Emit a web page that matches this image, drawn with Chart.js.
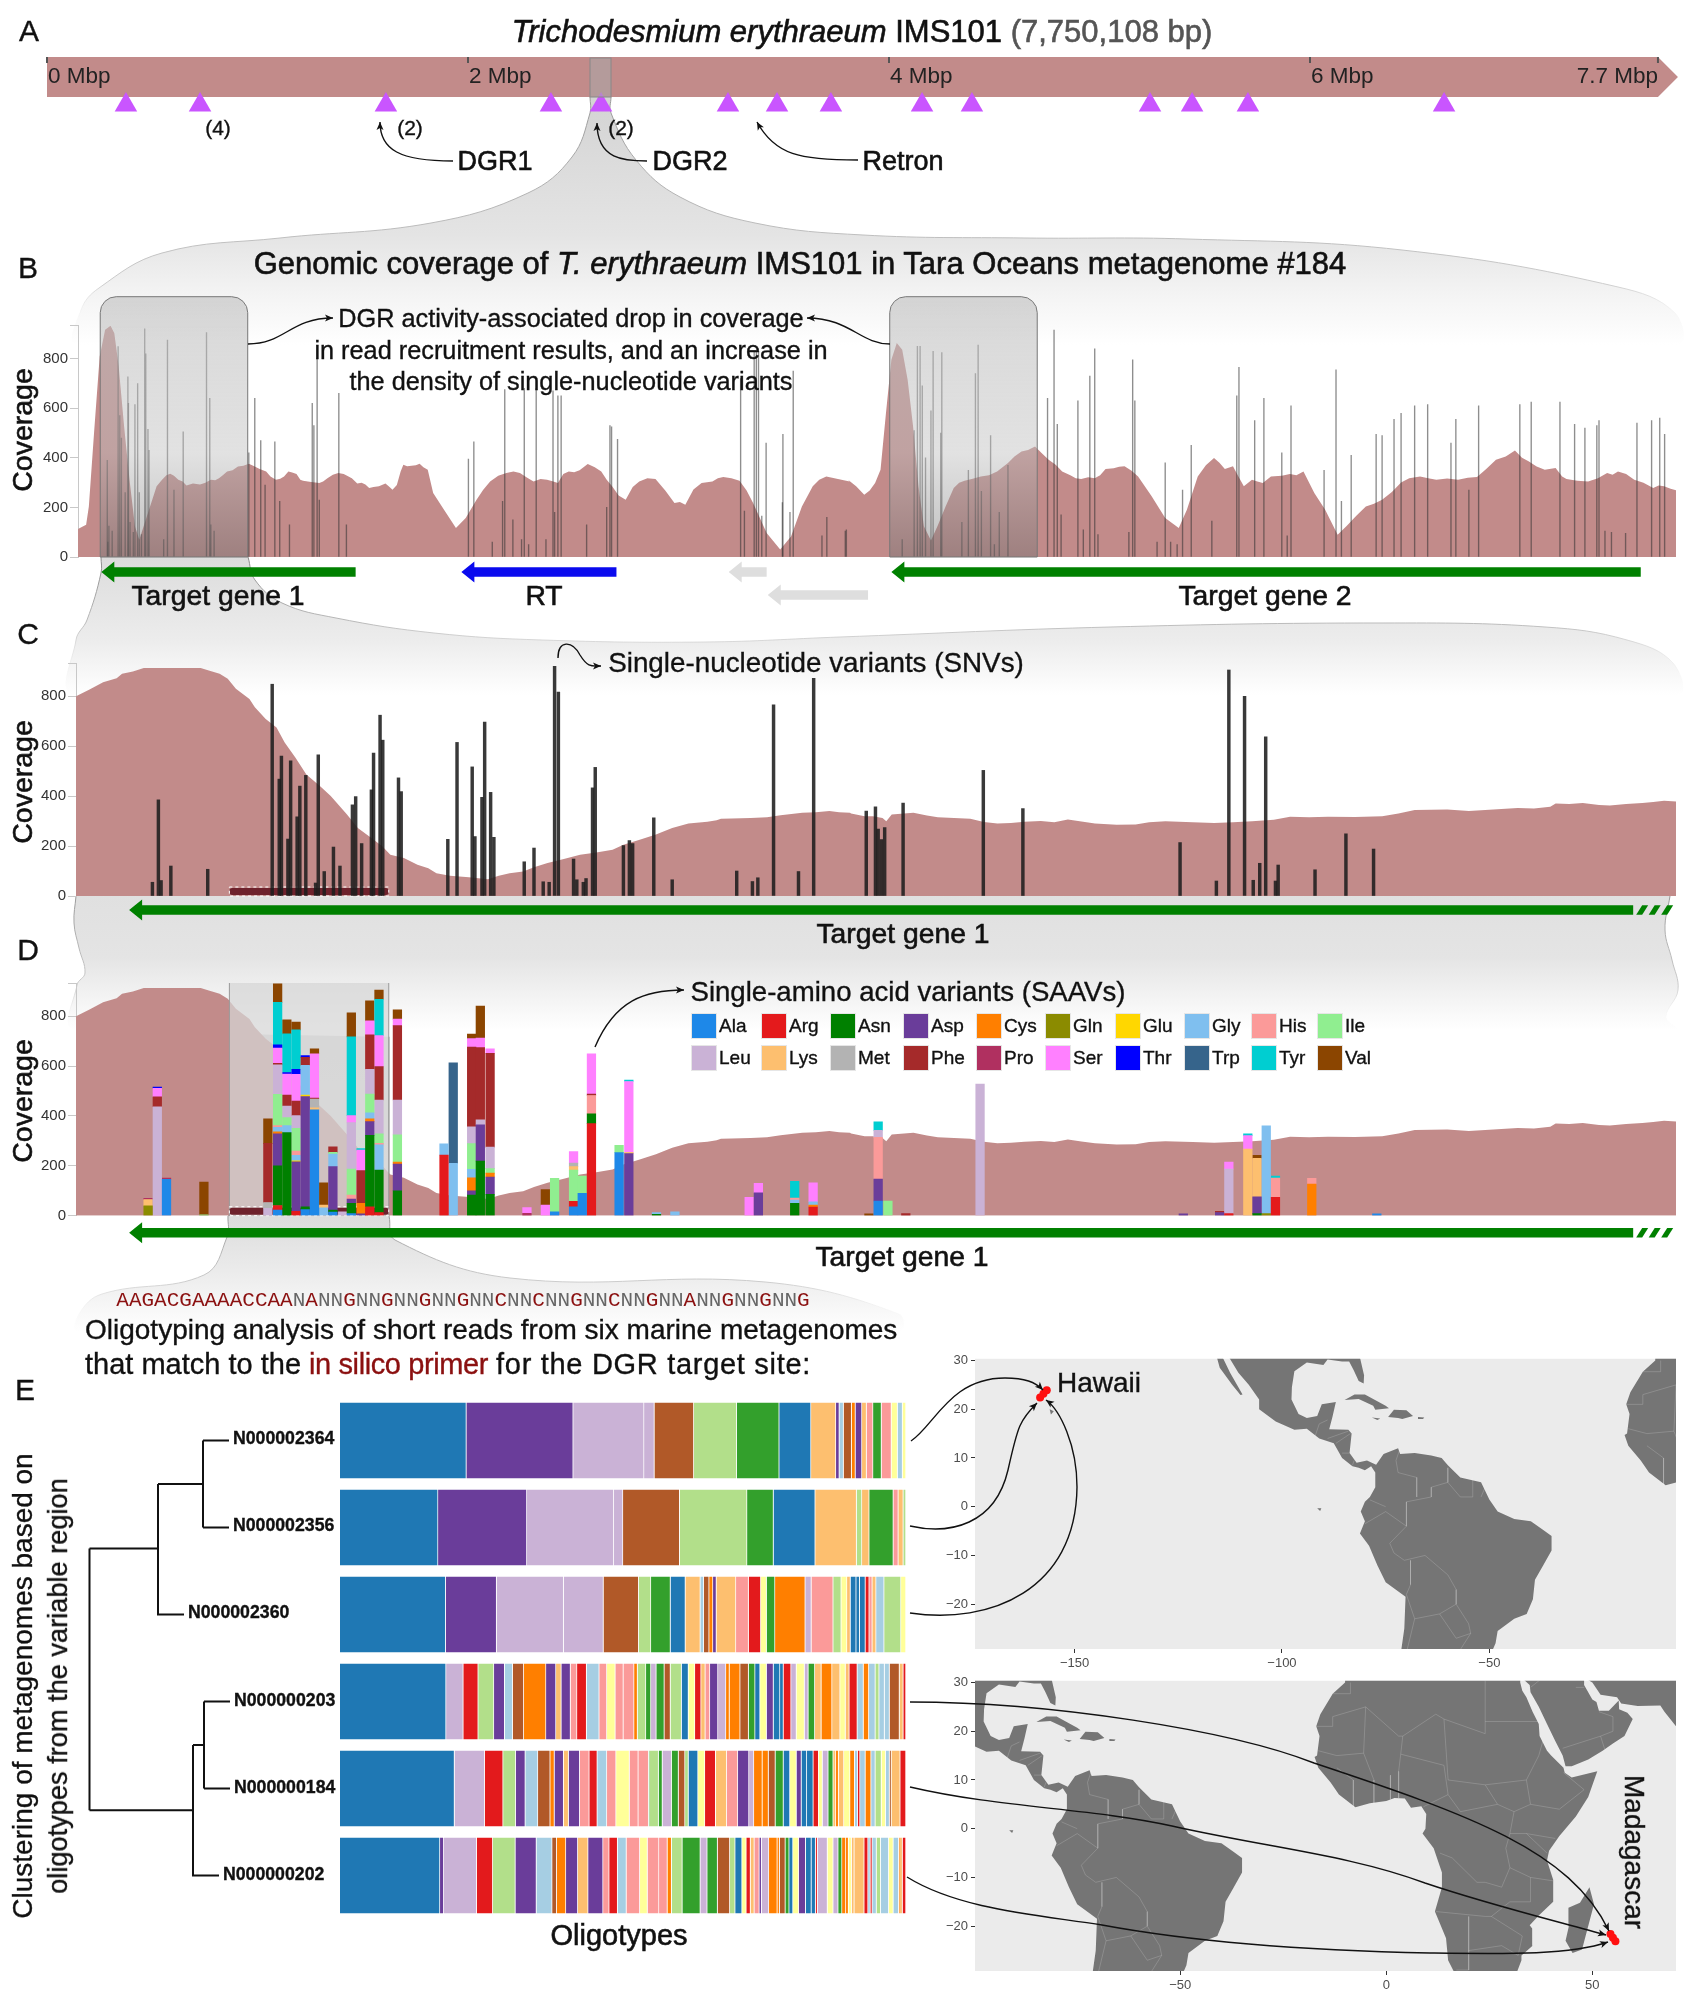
<!DOCTYPE html>
<html>
<head>
<meta charset="utf-8">
<title>Trichodesmium erythraeum DGR</title>
<script src="https://cdn.jsdelivr.net/npm/chart.js@4/dist/chart.umd.min.js"></script>
<style>
  body { margin: 0; background: #fff; }
  #page { position: relative; width: 1691px; height: 2000px; overflow: hidden; font-family: "Liberation Sans", Arial, sans-serif; color: #111; }
  canvas { position: absolute; }
  .t { position: absolute; white-space: nowrap; z-index: 5; -webkit-text-stroke: 0.35px currentColor; }
  .m { -webkit-text-stroke: 0.6px currentColor; }
  .sw { position: absolute; width: 24px; height: 24px; border: 1px solid #e6e6e6; z-index: 5; }
  .dna { font-family: "Liberation Mono", monospace; color: #8b1010; -webkit-text-stroke: 0; }
  .dna b { font-weight: normal; color: #666; }
</style>
</head>
<body>
<div id="page"></div>
<script>
// ---------- panel A: genome
const genomeEnd = 7.653;
const genomeTicks = [0, 2, 4, 6, 7.653];
const genomeTickLabels = ['0 Mbp', '2 Mbp', '4 Mbp', '6 Mbp', '7.7 Mbp'];
const siteMbp = [0.375, 0.727, 1.61, 2.394, 2.632, 3.235, 3.468, 3.724, 4.157, 4.394, 5.24, 5.44, 5.705, 6.637];

// ---------- panel B: position along the contig, coverage
const splitPos = 1550; // second half of the contig tables starts here
const covBLeft = [[145,113],[160,130],[165,204],[175,513],[185,809],[195,917],[205,933],[212,903],[220,769],[230,527],[240,312],[250,124],[258,70],[270,150],[280,218],[290,285],[300,312],[308,330],[315,336],[322,328],[330,312],[338,305],[345,288],[357,296],[370,292],[380,300],[390,312],[398,310],[405,318],[412,330],[420,345],[430,350],[440,365],[450,368],[460,376],[470,366],[480,355],[492,345],[500,325],[510,312],[518,316],[525,325],[533,345],[540,341],[548,335],[555,312],[560,308],[575,303],[590,298],[597,305],[605,318],[615,332],[625,339],[635,335],[650,318],[660,296],[668,300],[675,292],[682,278],[690,282],[700,285],[712,296],[718,285],[725,271],[733,290],[740,345],[745,372],[752,366],[760,368],[768,370],[775,376],[782,362],[790,352],[800,258],[820,191],[842,117],[860,157],[880,231],[892,270],[905,305],[920,328],[935,339],[948,345],[960,339],[972,322],[985,305],[998,315],[1010,312],[1020,306],[1030,298],[1040,335],[1050,345],[1060,342],[1070,350],[1085,375],[1098,362],[1110,345],[1120,312],[1130,285],[1142,248],[1155,231],[1168,282],[1180,305],[1195,318],[1210,315],[1228,268],[1245,218],[1255,222],[1265,211],[1280,272],[1295,298],[1315,305],[1325,318],[1335,323],[1350,318],[1365,308],[1378,268],[1390,218],[1415,97],[1440,30],[1460,83],[1480,204],[1500,285],[1512,312],[1525,325],[1540,318],[1568,305]];
const covBRight = [[15,312],[30,285],[45,251],[55,268],[65,298],[75,352],[85,580],[95,796],[105,863],[115,836],[125,715],[135,527],[145,285],[155,124],[168,67],[180,124],[195,204],[210,278],[220,300],[230,308],[245,316],[260,325],[275,330],[290,345],[300,362],[310,379],[322,405],[335,426],[347,432],[360,446],[372,420],[385,392],[398,372],[410,345],[425,330],[435,318],[445,315],[458,322],[470,318],[480,330],[490,355],[505,358],[515,364],[525,366],[538,348],[550,325],[575,245],[600,157],[625,117],[640,191],[660,325],[675,370],[690,399],[700,380],[710,355],[725,366],[735,325],[745,285],[760,312],[770,305],[780,298],[795,325],[815,328],[830,335],[842,330],[855,345],[875,258],[895,191],[918,90],[935,126],[952,165],[970,204],[985,215],[1000,231],[1018,262],[1035,301],[1050,318],[1070,325],[1085,318],[1100,312],[1120,317],[1140,312],[1158,320],[1175,323],[1192,355],[1210,392],[1228,405],[1245,430],[1258,400],[1270,386],[1285,365],[1300,352],[1320,359],[1332,325],[1340,315],[1360,308],[1380,305],[1398,318],[1415,339],[1425,332],[1435,345],[1450,335],[1465,312],[1482,300],[1500,278],[1510,288],[1520,285],[1532,275],[1542,269]];
const snvBLeft = [[199,390],[200,60],[202,125],[208,105],[219,849],[222,570],[225,480],[232,260],[237,727],[238,620],[241,140],[247,100],[250,615],[255,700],[258,260],[262,90],[268,920],[270,820],[274,515],[276,430],[303,70],[310,875],[322,270],[339,505],[382,905],[388,640],[390,130],[396,105],[460,420],[471,640],[482,470],[490,290],[508,465],[517,225],[535,130],[577,620],[580,530],[586,800],[590,230],[626,660],[640,130],[865,395],[875,465],[909,60],[928,225],[932,675],[947,150],[963,70],[968,680],[976,50],[990,680],[1008,70],[1021,670],[1024,180],[1030,650],[1036,650],[1083,130],[1120,200],[1126,530],[1129,525],[1140,475],[1367,720],[1374,185],[1392,830],[1396,830],[1400,830],[1406,165],[1414,460],[1445,495],[1444,220],[1458,180],[1464,750],[1526,160],[1517,85],[1560,105]];
const snvBRight = [[12,110],[115,70],[137,510],[143,850],[148,850],[152,690],[158,400],[168,590],[172,830],[186,500],[188,825],[225,140],[237,350],[250,740],[255,855],[261,265],[278,490],[285,50],[294,180],[310,370],[383,640],[395,915],[401,535],[408,170],[439,630],[449,110],[461,730],[470,840],[476,90],[533,100],[540,795],[544,630],[585,60],[600,380],[610,60],[622,50],[632,270],[648,450],[686,145],[732,650],[736,765],[765,550],[782,640],[815,420],[825,85],[832,610],[893,350],[915,755],[925,225],[943,410],[989,495],[1000,490],[1022,555],[1035,580],[1060,610],[1084,615],[1127,460],[1136,555],[1160,270],[1178,610],[1254,615],[1275,625],[1328,625],[1355,535],[1374,520],[1396,530],[1400,550],[1411,105],[1423,100],[1449,95],[1470,540],[1497,550],[1512,560],[1521,495]];
const geneStartB = [188, 852, 1345, 1417, 1645];
const geneEndB = [657, 1138, 1415, 1602, 3027];
const geneKindB = ['target', 'rt', 'other', 'other', 'target'];
const geneLaneB = [0, 0, 0, 1, 0];
const activeRegionsB = [[186, 458], [1642, 1914]];

// ---------- panels C and D: target gene 1 close up
const covCLeft = [[140,800],[165,827],[190,856],[215,872],[225,890],[245,899],[265,913],[370,913],[385,903],[405,890],[420,870],[435,830],[460,789],[470,756],[490,709],[510,675],[525,615],[545,554],[565,487],[590,440],[610,400],[640,326],[660,272],[685,232],[705,199],[720,165],[745,152],[770,125],[790,111],[805,91],[830,81],[865,75],[900,67],[920,81],[940,91],[965,98],[985,115],[1010,132],[1040,148],[1070,165],[1100,174],[1130,185],[1150,205],[1180,225],[1210,246],[1240,272],[1270,290],[1305,297],[1322,303],[1330,309],[1350,310],[1385,312],[1415,315],[1440,323],[1480,333],[1505,335],[1530,340],[1548,335],[1568,333]];
const covCRight = [[20,330],[45,319],[60,319],[78,312],[85,299],[95,326],[135,333],[160,322],[180,315],[210,312],[240,309],[265,296],[290,290],[315,292],[340,297],[370,300],[395,295],[420,306],[445,298],[470,290],[510,285],[545,286],[570,295],[600,299],[650,295],[690,292],[725,295],[760,299],[800,305],[830,317],[865,315],[900,317],[950,316],[1000,319],[1030,330],[1060,344],[1090,345],[1120,346],[1160,340],[1190,344],[1220,348],[1250,352],[1280,350],[1310,357],[1320,370],[1345,368],[1370,372],[1400,364],[1420,362],[1450,368],[1480,372],[1500,376],[1520,381],[1542,378]];
const snvCLeft = [[281,55],[292,385],[297,62],[315,120],[383,107],[502,848],[515,468],[519,560],[531,228],[536,541],[548,317],[553,440],[564,483],[582,52],[587,565],[598,98],[615,196],[627,120],[650,365],[656,398],[667,210],[685,425],[689,572],[701,724],[706,624],[735,473],[740,418],[826,227],[843,615],[871,517],[876,238],[889,395],[894,696],[905,415],[911,235],[967,137],[985,192],[1002,57],[1013,55],[1023,920],[1030,817],[1058,148],[1064,65],[1076,55],[1081,70],[1093,433],[1098,515],[1150,202],[1161,222],[1167,210],[1206,313],[1240,65],[1359,100],[1388,58],[1398,73],[1427,765],[1473,98],[1501,872]];
const snvCRight = [[48,340],[65,357],[70,268],[76,226],[82,274],[116,372],[264,503],[337,350],[627,214],[694,60],[717,905],[746,800],[762,63],[774,131],[785,637],[803,60],[808,124],[876,105],[933,249],[984,188]];
const geneStartC = [238];
const geneEndC = [3013];
const primerRegion = [423, 717];

const aminoAcids = ['Ala','Arg','Asn','Asp','Cys','Gln','Glu','Gly','His','Ile','Leu','Lys','Met','Phe','Pro','Ser','Thr','Trp','Tyr','Val'];
const aminoColors = ['#1e88e8','#e41a1c','#008000','#6a3d9a','#ff7f00','#8b8b00','#ffd700','#7fbfef','#fb9a99','#90ee90','#cab2d6','#fdbf6f','#b3b3b3','#a52a2a','#b03060','#ff80ff','#0000ff','#36648b','#00ced1','#8b4500'];
// each site: position, then amino acid and the top of its segment in the stack
const saavPos = [273,290,307,376,494,512,529,546,563,580,597,614,632,648,666,682,699,733,819,836,870,886,904,972,1006,1023,1058,1074,1091,1142,1160,1211,1245,1382,1399,1466,1500,1603,1620,1638,1671,1808,2183,2250,2267,2302,2319,2336,2353,2420,2540];
const saavTops = [
  ['Gln',40,'Lys',65,'Pro',70],
  ['Leu',437,'Phe',477,'Ser',511,'Thr',516],
  ['Ala',146,'Pro',151],
  ['Ile',3,'Val',135],
  ['Leu',30,'Met',53,'Phe',290,'Val',388],
  ['Ala',23,'Arg',41,'Asn',200,'Asp',328,'Cys',336,'Gly',354,'His',361,'Ile',487,'Leu',605,'Phe',611,'Ser',672,'Thr',685,'Tyr',855,'Val',930],
  ['Asn',333,'Gly',361,'Ile',393,'Leu',440,'Phe',484,'Ser',568,'Thr',574,'Tyr',729,'Val',785],
  ['Arg',18,'Asp',216,'Glu',220,'Gly',242,'His',259,'Ile',350,'Leu',401,'Phe',460,'Ser',567,'Thr',587,'Tyr',745,'Val',776],
  ['Ala',25,'Asn',36,'Asp',478,'Glu',484,'Gly',603,'Phe',635,'Thr',642],
  ['Ala',424,'Lys',433,'Met',468,'Phe',472,'Ser',649,'Val',669],
  ['Gly',32,'Lys',43,'Val',132],
  ['Ala',15,'Asn',23,'Asp',197,'Gly',247,'Ile',254,'Phe',276],
  ['Leu',16],
  ['Ala',9,'Asn',50,'Asp',67,'His',83,'Ile',187,'Leu',373,'Ser',401,'Tyr',717,'Val',813],
  ['Asp',7,'Cys',50,'Phe',181,'Ser',263,'Tyr',269],
  ['Arg',36,'Asn',322,'Asp',377,'Cys',388,'Gly',412,'Ile',488,'Leu',587,'Phe',725,'Ser',781,'Val',862],
  ['Arg',13,'Asn',183,'Gly',284,'His',290,'Ile',328,'Leu',464,'Phe',598,'Ser',722,'Tyr',868,'Val',905],
  ['Asn',100,'Asp',207,'Cys',215,'Ile',324,'Leu',464,'Phe',762,'Ser',788,'Val',825],
  ['Arg',243,'Gly',288],
  ['Gly',210,'Trp',613],
  ['Asn',83,'Asp',100,'Cys',152,'Gly',186,'Ile',289,'Leu',356,'Phe',676,'Ser',710,'Val',728],
  ['Asn',219,'Asp',364,'Leu',384,'Phe',674,'Ser',712,'Val',840],
  ['Asn',86,'Asp',155,'Cys',171,'Ile',189,'Leu',275,'Phe',651,'Ser',669],
  ['Pro',10,'Ser',33],
  ['Ser',43,'Val',105],
  ['Ala',16,'Ile',150],
  ['Ala',36,'Arg',58,'Ile',183,'Lys',197,'Met',211,'Ser',257],
  ['Ala',90,'Ile',159],
  ['Arg',369,'Asn',408,'His',482,'Phe',488,'Ser',649],
  ['Ala',253,'Ile',282],
  ['Asp',249,'Lys',254,'Ser',538,'Tyr',544],
  ['Asn',5,'Gly',13],
  ['Gly',16],
  ['Ser',74],
  ['Asp',92,'Ser',130],
  ['Asn',50,'Gly',63,'His',71,'Tyr',138],
  ['Arg',35,'Cys',43,'Gly',56,'Ser',132],
  ['Val',7],
  ['Ala',59,'Asp',147,'His',314,'Leu',342,'Tyr',376],
  ['Ile',59],
  ['Phe',8],
  ['Leu',528],
  ['Asp',7],
  ['Asp',13,'Phe',18],
  ['Arg',8,'Leu',187,'Ser',215],
  ['Lys',267,'Ser',321,'Tyr',328],
  ['Asn',8,'Asp',76,'Lys',230,'Val',242],
  ['Gln',8,'Gly',360],
  ['Arg',74,'His',151,'Tyr',159],
  ['Cys',127,'His',150],
  ['Ala',7]
];

// ---------- panel E: oligotypes, edges of each block and its colour
const sampleNames = ['N000002364','N000002356','N000002360','N000000203','N000000184','N000000202'];
const pairedColors = {a:'#a6cee3',b:'#1f78b4',c:'#b2df8a',d:'#33a02c',e:'#fb9a99',f:'#e31a1c',g:'#fdbf6f',h:'#ff7f00',i:'#cab2d6',j:'#6a3d9a',k:'#ffff99',l:'#b15928'};
const oligoEdges = [
  [26,356,635,820,847,950,1062,1173,1256,1321,1330,1341,1362,1372,1389,1401,1418,1440,1466,1482,1495,1504],
  [26,282,514,741,765,913,1089,1158,1267,1375,1389,1408,1471,1484,1497,1504],
  [26,302,435,610,714,806,838,889,928,967,976,990,1000,1009,1060,1093,1125,1140,1162,1241,1257,1314,1335,1350,1359,1374,1383,1398,1408,1416,1426,1447,1491,1504],
  [26,303,348,387,428,456,477,506,564,590,604,628,645,670,703,723,745,766,794,803,825,838,852,873,889,918,936,953,969,980,992,1013,1034,1043,1071,1093,1110,1123,1140,1158,1175,1184,1204,1218,1239,1249,1266,1283,1311,1332,1346,1356,1377,1393,1407,1424,1434,1448,1461,1487,1497,1504],
  [26,325,404,452,485,510,543,575,586,610,623,652,677,698,723,747,782,805,832,834,858,868,892,910,927,936,961,979,1007,1036,1065,1094,1107,1129,1145,1163,1184,1201,1218,1231,1245,1262,1276,1286,1301,1314,1321,1328,1342,1358,1370,1378,1384,1398,1413,1424,1440,1451,1461,1466,1489,1504],
  [26,287,297,383,425,484,539,580,592,616,647,674,713,729,751,774,809,829,859,881,892,920,967,985,1012,1044,1058,1076,1087,1098,1108,1121,1127,1146,1168,1174,1189,1199,1209,1224,1242,1257,1268,1273,1299,1314,1327,1337,1347,1354,1362,1369,1395,1405,1411,1416,1427,1438,1459,1471,1485,1488,1495,1504]
];
const oligoColors = ['bjiilcdbgjalhjgedekak','bjiilcdbgcgdegc','bjiilcdbgalhjgefkdhieckgbbbfegack','bifcjalhjgjefaekeehcdidlcbkfgejihhldbkjbbfikidghgkgfahacaalgf','bifcjalhjgjefaekeedcdidlcbkfgejihhldbkjbbfkidghgkhafahackalgf','bjifcjalhjgjefaekeehcdidlcbkfgejihhldbkjbbfikidhhkggfafacakahgf'];
// dendrogram: [depth, row] corners, null breaks the line
const treeLines = [[9.5,1.24],[78,1.24],null,[9.5,4.25],[113,4.25],null,[9.5,1.24],[9.5,4.25],null,[78,0.5],[78,2],[104,2],null,[78,0.5],[123,0.5],null,[123,0],[123,1],null,[123,0],[149,0],null,[123,1],[149,1],null,[113,3.5],[113,5],[139,5],null,[113,3.5],[124,3.5],null,[124,3],[124,4],null,[124,3],[150,3],null,[124,4],[150,4]];

// ---------- maps: lon, lat
const landAmericas = [[-81.3,31],[-80.2,27],[-80.3,25.3],[-81.5,25.8],[-82.7,28],[-83.8,29.8],[-85.5,29.8],[-89,30.2],[-90,29.1],[-94,29.6],[-97,27.8],[-97.6,24.5],[-97.7,22],[-96,19],[-94,18.2],[-91.5,18.6],[-90.4,21],[-87,21.5],[-87.8,18.5],[-88.6,15.9],[-84,15.8],[-83.2,15],[-83.7,11],[-82,9],[-79.5,9.5],[-77.3,8.6],[-75.5,10.8],[-72,12],[-71.5,10.8],[-68,11],[-64,10.5],[-61.5,10],[-60,8.5],[-57,6],[-52,5],[-50,1.5],[-48,-1],[-44,-2.5],[-40,-3],[-37,-4.8],[-35,-6],[-35,-9],[-37,-12],[-39,-15],[-39.5,-19],[-41,-22],[-44,-23],[-48,-25.5],[-48.5,-28],[-49.5,-30],[-50,-31],[-71.5,-31],[-70.5,-25],[-70.2,-18.5],[-75,-15.5],[-77,-12],[-79,-8],[-81.2,-5.5],[-80,-3],[-81,-1],[-80,1],[-78.8,2],[-77.5,4],[-77.5,7],[-78.5,8.3],[-80,7.5],[-81.5,8],[-83,8.3],[-85.5,10],[-87.5,13],[-91,14],[-94,16],[-97,15.8],[-101.5,17.5],[-105.5,20],[-105.5,22],[-108,25],[-110.5,27.5],[-113,31]];
const landBaja = [[-115.8,31],[-114.5,31],[-112.5,27.5],[-109.5,23],[-110,22.9],[-112,25],[-115,28.5]];
const landCuba = [[-84.9,21.9],[-82.5,23],[-80,23],[-75,20.7],[-74.2,20.2],[-77.5,19.9],[-78,20.7],[-81.5,22.1]];
const landHispaniola = [[-74.4,18.4],[-73,19.9],[-70,19.8],[-68.4,18.6],[-71,18],[-72,18.2]];
const landJamaica = [[-78.3,18.3],[-76.3,18.1],[-77,17.8]];
const landPuertoRico = [[-67.2,18.4],[-65.7,18.3],[-66,18],[-67.2,18]];
const landHawaii = [[-156,20],[-155,19.6],[-155.7,18.9]];
const landGalapagos = [[-91.5,-0.3],[-90.5,-0.3],[-90.8,-0.9]];
const landAfrica = [[-10,31],[-10,30],[-13,27.7],[-16,23.5],[-17,21],[-16.2,19],[-16.8,15],[-17.4,14.7],[-16.5,12.5],[-13.5,9.5],[-11.5,7],[-7.5,4.4],[-4,5.2],[0,5.7],[2,6.3],[4.5,6.2],[6,4.3],[8.5,4.6],[9.7,3],[9.5,0],[8.8,-1],[11.5,-4],[12.3,-6],[13.5,-9],[13.5,-12],[11.8,-17],[14.5,-22.5],[15,-27],[16.5,-29.5],[17,-31],[31,-31],[32.8,-27],[32.8,-26],[35.5,-24],[35.4,-20.5],[34.8,-19.8],[37,-17.8],[40.5,-15],[40.5,-10.5],[39,-6.5],[39.5,-4.5],[42,-1.5],[46,2.5],[49,6.5],[51.2,11.8],[45,10.5],[43.3,11.5],[43,12.5],[40,15],[39,16],[37.2,19],[37,21.5],[35.5,24],[34,27],[33,28.3],[32.5,30],[32.5,31]];
const landArabia = [[32.8,31],[34.8,29.5],[35,28],[37,25],[39,21.5],[41,18],[42.8,15],[43.5,12.8],[45,12.8],[49,14.2],[52.5,16],[55,17.5],[57.8,19],[59.8,22.5],[58.5,23.8],[56.5,24.5],[56.4,26.3],[54,24.2],[51.6,24.2],[51,26],[50,26.5],[48,29.5],[48,31]];
const landIran = [[48,31],[50,30],[52,27.5],[56,27],[57,25.7],[61,25.2],[66.5,25.3],[67.5,24],[70.3,21],[72,21],[72,31]];
const landMadagascar = [[49.3,-12],[50.4,-15.5],[47.5,-24.8],[45.2,-25.5],[43.5,-23],[44.3,-20],[44.2,-16.2],[47,-15.2]];
const landParts = [landAmericas, landBaja, landCuba, landHispaniola, landJamaica, landPuertoRico, landHawaii, landGalapagos, landAfrica, landArabia, landIran, landMadagascar];
const borderLines = [[-60,8],[-60,5],[-64,4],[-64,2],[-67,1.5],[-70,1],[-70,-4],[-74,-7.5],[-73,-9.5],[-70.5,-11],[-65.5,-10],[-60,-14],[-58,-17],[-58,-20],[-55,-24],[-54.5,-26],[-57.5,-30],null,[-71.5,12],[-72.5,9.5],[-72,7],[-67.5,6],[-67.5,2],null,[-80,-3.5],[-75,-1],[-70,-4],null,[-78.8,1.4],[-75,0],null,[-69,-11],[-69,-16],[-70,-18],[-68,-23],[-70,-30],null,[-68,-23],[-62,-22],[-58,-20],null,[-62,-22],[-58,-27],[-54.5,-26],null,[-60,5],[-57,2],[-54,2],[-54,6],null,[-52,2],[-51,4],null,[-92,14.5],[-91,17],[-89,17.8],null,[-89,14],[-84,15.5],null,[-87,13],[-83.5,15],null,[-85.5,11],[-83.7,11],null,[-83,8.5],[-82.6,9.5],null,
  [-13,27.7],[-8.7,27.7],[-8.7,30],null,[-17,21],[-13,21],[-13,23],[-5,25],[3,19],[4,19],[12,23.5],[14,22.5],[24,19.5],[24,31],null,[-16.5,16],[-12,15],[-5.5,15.5],[-5,25],null,[3,11.8],[3.5,15.3],[4,19],null,[-12,12.5],[-8,10],[-8,4.5],null,[-5.5,15.5],[-3,10],[-3,5],null,[1,11],[1,6],null,[3,11.8],[3,6.3],null,[3.5,15.3],[14,13],[15,7],[9,4.5],null,[14,22.5],[15,10],[24,9],[34,10],[37,15],[38,18],null,[24,22],[37,22],null,[24,9],[27,5],[31,3.5],[35,5],[42,4],[48,8],[43,11.5],null,[34,10],[35,5],null,[31,3.5],[30,-1],[29,-4],[30,-8],[35,-10],[40.5,-10.7],null,[30,-1],[34,-1],[41,-2],null,[34,-1],[39,-5],null,[15,7],[18,3.5],[27,5],null,[13,-5],[16,-6],[22,-11],[24,-11],[28,-12],[30,-8],null,[12,-17],[24,-18],[25.5,-18],[30,-15],[35,-15],[35,-10],null,[20,-18],[20,-29],[17,-29],null,[25.5,-18],[33,-22],[32,-26],[28,-24],[20,-25],null,
  [35,29],[38,31],null,[42.8,16.5],[52,19],[55,20],[55,23],[51.6,24],null,[46,29],[48,29],null,[52,19],[53,16.3]];
const hawaiiDots = [[-158.3,22.4],[-157.5,23.2],[-156.7,23.9]];
const madagascarDots = [[54.4,-21.6],[55,-22.4],[55.6,-23.1]];

// ---------- page level decoration, in page pixels
const funnelAB = [[590,97],[590,113],[572,157],[528,193],[431,223],[280,238],[162,253],[99,288],[81,310],[78,345],[1677,345],[1675,313],[1618,287],[1402,250],[1187,239],[1025,238],[863,235],[755,223],[680,197],[636,160],[611,113],[611,97]];
const funnelBC = [[101,557],[101,573],[87,620],[76,640],[76,695],[1677,695],[1673,663],[1627,640],[1545,627],[1383,623],[1111,627],[840,637],[705,642],[542,640],[434,633],[336,618],[282,603],[255,580],[248,557]];
const funnelCD = [[76,896],[74,923],[79,948],[85,973],[77,985],[76,1030],[1677,1030],[1666,1017],[1678,990],[1672,960],[1665,930],[1670,896]];
const zoomBandCD = [[229,896],[229,1216],[389,1216],[389,896]];
const funnelDE = [[228,1216],[227,1237],[204,1275],[102,1294],[79,1314],[78,1332],[899,1332],[899,1314],[765,1282],[510,1278],[395,1240],[389,1216]];
// cubic paths: start, then control, control, end ...
const calloutPaths = [
  [453,161, 400,161,380,150,380,122],
  [647,161, 625,161,597,160,597,123],
  [858,160, 800,160,775,155,757,122],
  [248,344, 285,344,290,318,333,318],
  [890,344, 860,344,850,318,807,318],
  [558,658, 558,640,572,640,580,655, 588,668,592,666,601,666],
  [595,1047, 615,1000,645,990,684,990],
  [911,1441, 935,1425,950,1378,1005,1378, 1025,1378,1035,1382,1043,1390],
  [910,1526, 950,1535,995,1525,1008,1470, 1018,1425,1020,1420,1037,1403],
  [910,1613, 990,1625,1076,1590,1077,1487, 1077,1445,1060,1410,1046,1400],
  [910,1702, 1050,1702,1230,1730,1314,1763, 1470,1815,1570,1850,1609,1931],
  [910,1787, 1000,1808,1090,1808,1172,1826, 1270,1848,1350,1855,1425,1883, 1490,1905,1560,1922,1606,1935],
  [907,1877, 960,1910,1040,1915,1102,1925, 1210,1945,1330,1951,1430,1953, 1510,1954,1570,1955,1608,1942]
];

// ----------------------------------------------------------------------
const page = document.getElementById('page');
const FONT = '"Liberation Sans", Arial, sans-serif';
const COV = 'rgb(194,139,138)';
Chart.defaults.font.family = FONT;
Chart.defaults.animation = false;
Chart.defaults.responsive = false;
Chart.defaults.layout.autoPadding = false;
Chart.defaults.plugins.legend.display = false;
Chart.defaults.plugins.tooltip.enabled = false;

function addCanvas(left, top, w, h, z) {
  const c = document.createElement('canvas');
  c.width = w; c.height = h;
  c.style.cssText = 'left:' + left + 'px;top:' + top + 'px;width:' + w + 'px;height:' + h + 'px;z-index:' + z;
  page.appendChild(c);
  return c;
}
function addText(html, x, y, size, opt) {
  opt = opt || {};
  const d = document.createElement('div');
  d.className = 't' + (opt.cls ? ' ' + opt.cls : '');
  d.innerHTML = html;
  const tx = opt.left ? '0' : '-50%';
  d.style.cssText = 'left:' + x + 'px;top:' + y + 'px;font-size:' + size + 'px;transform:translate(' + tx + ',-50%)' + (opt.rot ? ' rotate(' + opt.rot + 'deg)' : '') + ';' + (opt.css || '');
  page.appendChild(d);
}
function joinTable(left, right) {
  return left.concat(right.map(p => [p[0] + splitPos, p[1]])).map(p => ({x: p[0], y: p[1]}));
}
function xyRows(rows) {
  return rows.map(p => p ? {x: p[0], y: p[1]} : {x: NaN, y: NaN});
}
function fade(ctx, y0, y1, stops) {
  const g = ctx.createLinearGradient(0, y0, 0, y1);
  stops.forEach(s => g.addColorStop(s[0], s[1]));
  return g;
}

// ---------- background funnels
const bgCanvas = addCanvas(0, 0, 1691, 2000, 0);
const bgCtx = bgCanvas.getContext('2d');
function funnelSet(points, fill, edge, tension) {
  return {data: xyRows(points), showLine: true, pointRadius: 0, tension: tension, fill: 'shape', backgroundColor: fill, borderColor: edge, borderWidth: 1};
}
new Chart(bgCanvas, {
  type: 'scatter',
  data: {datasets: [
    funnelSet(funnelAB, fade(bgCtx, 100, 345, [[0,'#d4d4d4'],[0.55,'#e4e4e4'],[0.8,'#f4f4f4'],[1,'#ffffff']]), fade(bgCtx, 100, 330, [[0,'#999'],[0.8,'#ccc'],[1,'rgba(255,255,255,0)']]), 0.4),
    funnelSet(funnelBC, fade(bgCtx, 557, 695, [[0,'#dcdcdc'],[0.6,'#ececec'],[1,'#ffffff']]), fade(bgCtx, 557, 690, [[0,'#888'],[0.5,'#bbb'],[1,'rgba(255,255,255,0)']]), 0.4),
    funnelSet(funnelCD, fade(bgCtx, 896, 1030, [[0,'#e0e0e0'],[0.45,'#e4e4e4'],[1,'#ffffff']]), fade(bgCtx, 896, 1025, [[0,'#999'],[0.7,'#ccc'],[1,'rgba(255,255,255,0)']]), 0.4),
    funnelSet(funnelDE, fade(bgCtx, 1216, 1332, [[0,'#dcdcdc'],[0.5,'#ececec'],[1,'#ffffff']]), fade(bgCtx, 1216, 1325, [[0,'#999'],[0.6,'#ccc'],[1,'rgba(255,255,255,0)']]), 0.4),
    funnelSet(zoomBandCD, fade(bgCtx, 896, 1216, [[0,'#d6d6d6'],[1,'#e2e2e2']]), '#999', 0)
  ]},
  options: {
    layout: {padding: 0},
    scales: {x: {display: false, min: 0, max: 1691}, y: {display: false, min: 0, max: 2000, reverse: true}}
  }
});

// ---------- panel A
const geneBarShape = [[0,0],[genomeEnd,0],[genomeEnd + 0.095,0.5],[genomeEnd,1],[0,1]];
const rulerPlugin = {
  id: 'ruler',
  afterDatasetsDraw(chart) {
    const c = chart.ctx, xs = chart.scales.x, ys = chart.scales.y;
    c.save();
    c.strokeStyle = '#555'; c.lineWidth = 2;
    c.fillStyle = '#222'; c.font = '22.5px ' + FONT; c.textBaseline = 'middle';
    genomeTicks.forEach((t, i) => {
      const px = xs.getPixelForValue(t), py = ys.getPixelForValue(1);
      c.beginPath(); c.moveTo(px, py); c.lineTo(px, py + 6); c.stroke();
      const last = i === genomeTicks.length - 1;
      c.textAlign = last ? 'right' : 'left';
      c.fillText(genomeTickLabels[i], px + (last ? 0 : 1), ys.getPixelForValue(0.5));
    });
    c.restore();
  }
};
new Chart(addCanvas(0, 50, 1691, 70, 1), {
  type: 'scatter',
  data: {datasets: [
    {data: siteMbp.map(m => ({x: m, y: -0.2})), pointStyle: 'triangle', pointRadius: 13, backgroundColor: '#c955ff', borderWidth: 0, clip: false},
    {data: xyRows(geneBarShape), showLine: true, pointRadius: 0, fill: 'shape', backgroundColor: COV, borderWidth: 0}
  ]},
  options: {
    layout: {padding: 0},
    scales: {x: {display: false, min: -0.2233, max: 7.81}, y: {display: false, min: -0.575, max: 1.175}}
  },
  plugins: [rulerPlugin]
});

// ---------- panels B, C, D
function drawGene(c, x0, x1, y, color, hatch) {
  c.fillStyle = color;
  c.beginPath();
  c.moveTo(x0, y); c.lineTo(x0 + 13, y - 10.5); c.lineTo(x0 + 13, y - 4.7); c.lineTo(x1, y - 4.7);
  c.lineTo(x1, y + 4.7); c.lineTo(x0 + 13, y + 4.7); c.lineTo(x0 + 13, y + 10.5); c.closePath(); c.fill();
  if (hatch) {
    for (let k = 0; k < 3; k++) {
      const sx = x1 + 3 + k * 12.5;
      c.beginPath();
      c.moveTo(sx, y + 4.7); c.lineTo(sx + 6, y + 4.7); c.lineTo(sx + 12, y - 4.7); c.lineTo(sx + 6, y - 4.7); c.closePath(); c.fill();
    }
  }
}
const geneColors = {target: '#008000', rt: '#0a0aee', other: '#dedede'};
const panelPlugin = {
  id: 'panel',
  afterDatasetDraw(chart, args, opts) {
    if (args.index !== 0 || !opts.primer) return;
    const c = chart.ctx, xs = chart.scales.x, a = chart.chartArea;
    const x0 = xs.getPixelForValue(opts.primer[0]), x1 = xs.getPixelForValue(opts.primer[1]);
    c.save();
    if (opts.lighten) {
      c.fillStyle = 'rgba(214,214,214,0.72)';
      c.fillRect(x0, a.top, x1 - x0, a.bottom - a.top);
      c.strokeStyle = '#999'; c.lineWidth = 1;
      c.beginPath(); c.moveTo(x0, a.top); c.lineTo(x0, a.bottom); c.moveTo(x1, a.top); c.lineTo(x1, a.bottom); c.stroke();
    }
    c.fillStyle = '#6e222c';
    c.beginPath(); c.roundRect(x0, a.bottom - 8, x1 - x0, 7, 3); c.fill();
    c.strokeStyle = '#fff'; c.lineWidth = 1; c.setLineDash([3, 3]);
    c.strokeRect(x0, a.bottom - 9, x1 - x0, 9);
    c.restore();
  },
  afterDatasetsDraw(chart, args, opts) {
    const c = chart.ctx, xs = chart.scales.x, a = chart.chartArea;
    c.save();
    (opts.boxes || []).forEach(b => {
      const x0 = xs.getPixelForValue(b[0]), x1 = xs.getPixelForValue(b[1]), top = a.top - 29;
      c.fillStyle = fade(c, top, a.bottom, [[0,'rgba(190,190,190,0.6)'],[0.6,'rgba(190,190,190,0.45)'],[1,'rgba(115,115,115,0.45)']]);
      c.strokeStyle = '#777'; c.lineWidth = 1;
      c.beginPath(); c.roundRect(x0, top, x1 - x0, a.bottom - top, [16, 16, 0, 0]); c.fill(); c.stroke();
    });
    (opts.genes || []).forEach(g => {
      drawGene(c, xs.getPixelForValue(g.start), xs.getPixelForValue(g.end), a.bottom + g.drop, geneColors[g.kind], g.hatch);
    });
    c.restore();
  }
};
function yAxis() {
  return {
    min: 0, max: 933,
    afterFit(s) { s.width = 76; },
    ticks: {stepSize: 200, color: '#333', font: {size: 15}, padding: 2, callback: v => (v === 933 ? '' : v)},
    grid: {drawOnChartArea: false, color: '#c8c8c8', tickLength: 8},
    border: {color: '#c8c8c8'}
  };
}
function coverageSet(points) {
  return {type: 'line', data: points, pointRadius: 0, borderWidth: 0, fill: 'origin', backgroundColor: COV, order: 2, stack: 'cov', tension: 0};
}

new Chart(addCanvas(0, 290, 1691, 330, 1), {
  type: 'bar',
  data: {datasets: [
    coverageSet(joinTable(covBLeft, covBRight)),
    {data: joinTable(snvBLeft, snvBRight), backgroundColor: 'rgba(50,50,50,0.55)', barThickness: 0.7, order: 1}
  ]},
  options: {
    layout: {padding: {top: 35.7, bottom: 63, right: 15, left: 2}},
    scales: {x: {type: 'linear', display: false, offset: false, min: 145, max: 3092}, y: yAxis()},
    plugins: {panel: {
      boxes: activeRegionsB,
      genes: geneStartB.map((s, i) => ({start: s, end: geneEndB[i], kind: geneKindB[i], drop: geneLaneB[i] ? 38 : 15}))
    }}
  },
  plugins: [panelPlugin]
});

new Chart(addCanvas(0, 640, 1691, 300, 1), {
  type: 'bar',
  data: {datasets: [
    coverageSet(joinTable(covCLeft, covCRight)),
    {data: joinTable(snvCLeft, snvCRight), backgroundColor: 'rgba(30,30,30,0.88)', barThickness: 2.8, order: 1}
  ]},
  options: {
    layout: {padding: {top: 23, bottom: 44, right: 15, left: 0}},
    scales: {x: {type: 'linear', display: false, offset: false, min: 140, max: 3092}, y: yAxis()},
    plugins: {panel: {primer: primerRegion, genes: [{start: geneStartC[0], end: geneEndC[0], kind: 'target', drop: 14, hatch: true}]}}
  },
  plugins: [panelPlugin]
});

const saavSets = aminoAcids.map((aa, k) => {
  const pts = [];
  saavTops.forEach((row, i) => {
    for (let j = 0; j < row.length; j += 2) {
      if (row[j] === aa) pts.push({x: saavPos[i], y: row[j + 1] - (j ? row[j - 1] : 0)});
    }
  });
  return {label: aa, data: pts, backgroundColor: aminoColors[k], barThickness: 8.6, order: 1, stack: 'saav'};
});
new Chart(addCanvas(0, 960, 1691, 290, 1), {
  type: 'bar',
  data: {datasets: [coverageSet(joinTable(covCLeft, covCRight))].concat(saavSets)},
  options: {
    layout: {padding: {top: 23, bottom: 34.3, right: 15, left: 0}},
    scales: {x: {type: 'linear', display: false, offset: false, stacked: true, min: 140, max: 3092}, y: Object.assign(yAxis(), {stacked: true})},
    plugins: {panel: {primer: primerRegion, lighten: true, genes: [{start: geneStartC[0], end: geneEndC[0], kind: 'target', drop: 17, hatch: true}]}}
  },
  plugins: [panelPlugin]
});

// ---------- panel E: dendrogram and oligotype bars
new Chart(addCanvas(80, 1396.5, 170, 522, 1), {
  type: 'scatter',
  data: {datasets: [{data: xyRows(treeLines), showLine: true, pointRadius: 0, borderColor: '#111', borderWidth: 2, spanGaps: false}]},
  options: {
    layout: {padding: 0},
    scales: {x: {display: false, min: 0, max: 170}, y: {display: false, min: -0.5, max: 5.5, reverse: true}}
  }
});

const maxBlocks = Math.max.apply(null, oligoColors.map(s => s.length));
const oligoSets = [];
for (let b = 0; b < maxBlocks; b++) {
  oligoSets.push({
    data: oligoEdges.map(e => (b + 1 < e.length ? e[b + 1] - e[b] : 0)),
    backgroundColor: oligoColors.map(s => pairedColors[s[b]] || '#fff'),
    borderColor: 'rgba(255,255,255,0.75)',
    borderWidth: 1,
    barThickness: 77
  });
}
new Chart(addCanvas(340, 1396.5, 566, 522, 1), {
  type: 'bar',
  data: {labels: sampleNames, datasets: oligoSets},
  options: {
    indexAxis: 'y',
    layout: {padding: 0},
    scales: {
      x: {display: false, stacked: true, min: 0, max: 1478},
      y: {display: false, stacked: true}
    }
  }
});

// ---------- maps
const mapPlugin = {
  id: 'mapBack',
  beforeDatasetsDraw(chart) {
    const a = chart.chartArea;
    chart.ctx.save();
    chart.ctx.fillStyle = '#ebebeb';
    chart.ctx.fillRect(a.left, a.top, a.right - a.left, a.bottom - a.top);
    chart.ctx.restore();
  }
};
function makeMap(top, lonMin, lonMax, lonTicks, dots) {
  const sets = landParts.map(p => ({data: xyRows(p), showLine: true, pointRadius: 0, fill: 'shape', backgroundColor: '#757575', borderWidth: 0, order: 3}));
  sets.push({data: xyRows(borderLines), showLine: true, pointRadius: 0, borderColor: 'rgba(255,255,255,0.25)', borderWidth: 0.7, spanGaps: false, order: 2});
  sets.push({data: xyRows(dots), pointRadius: 4, backgroundColor: '#ff1010', borderWidth: 0, order: 1});
  new Chart(addCanvas(925, top, 766, 327, 1), {
    type: 'scatter',
    data: {datasets: sets},
    options: {
      layout: {padding: {top: 5, right: 15, bottom: 0, left: 0}},
      scales: {
        x: {
          min: lonMin, max: lonMax,
          afterBuildTicks(s) { s.ticks = lonTicks.map(v => ({value: v})); },
          afterFit(s) { s.height = 26; },
          ticks: {color: '#4d4d4d', font: {size: 13}, maxRotation: 0, padding: 3, callback: v => String(v).replace('-', '\u2212')},
          grid: {drawOnChartArea: false, color: '#333', tickLength: 4},
          border: {display: false}
        },
        y: {
          min: -29.2, max: 30.35,
          afterBuildTicks(s) { s.ticks = [-20, -10, 0, 10, 20, 30].map(v => ({value: v})); },
          afterFit(s) { s.width = 50; },
          ticks: {color: '#4d4d4d', font: {size: 13}, padding: 3, callback: v => String(v).replace('-', '\u2212')},
          grid: {drawOnChartArea: false, color: '#333', tickLength: 4},
          border: {display: false}
        }
      }
    },
    plugins: [mapPlugin]
  });
}
makeMap(1348, -174, -5, [-150, -100, -50], hawaiiDots);
makeMap(1669.5, -99.8, 70.3, [-50, 0, 50], madagascarDots);

// ---------- overlay: selection box on the genome and callout arrows
const overlayPlugin = {
  id: 'overlay',
  afterDraw(chart) {
    const c = chart.ctx, xs = chart.scales.x, ys = chart.scales.y;
    const X = v => xs.getPixelForValue(v), Y = v => ys.getPixelForValue(v);
    c.save();
    c.fillStyle = 'rgba(170,170,170,0.55)'; c.strokeStyle = '#888'; c.lineWidth = 1;
    c.fillRect(X(590), Y(58), X(611) - X(590), Y(97) - Y(58));
    c.strokeRect(X(590), Y(58), X(611) - X(590), Y(97) - Y(58));
    c.strokeStyle = '#111'; c.fillStyle = '#111'; c.lineWidth = 1.4;
    calloutPaths.forEach(p => {
      c.beginPath();
      c.moveTo(X(p[0]), Y(p[1]));
      for (let i = 2; i < p.length; i += 6) {
        c.bezierCurveTo(X(p[i]), Y(p[i + 1]), X(p[i + 2]), Y(p[i + 3]), X(p[i + 4]), Y(p[i + 5]));
      }
      c.stroke();
      const n = p.length;
      const ang = Math.atan2(Y(p[n - 1]) - Y(p[n - 3]), X(p[n - 2]) - X(p[n - 4]));
      c.save();
      c.translate(X(p[n - 2]), Y(p[n - 1])); c.rotate(ang);
      c.beginPath(); c.moveTo(0, 0); c.lineTo(-8, -3.5); c.lineTo(-6, 0); c.lineTo(-8, 3.5); c.closePath(); c.fill();
      c.restore();
    });
    c.restore();
  }
};
new Chart(addCanvas(0, 0, 1691, 2000, 3), {
  type: 'scatter',
  data: {datasets: [{data: []}]},
  options: {
    layout: {padding: 0},
    scales: {x: {display: false, min: 0, max: 1691}, y: {display: false, min: 0, max: 2000, reverse: true}}
  },
  plugins: [overlayPlugin]
});

// ---------- text
addText('A', 29, 31, 30);
addText('B', 28, 268, 30);
addText('C', 28, 634, 30);
addText('D', 28, 950, 30);
addText('E', 25, 1390, 30);
addText('<i>Trichodesmium erythraeum</i> IMS101 <span style="color:#555">(7,750,108 bp)</span>', 862, 32, 31, {cls: 'm'});
addText('(4)', 218, 128, 21);
addText('(2)', 410, 128, 21);
addText('(2)', 621, 128, 21);
addText('DGR1', 495, 161, 27, {cls: 'm'});
addText('DGR2', 690, 161, 27, {cls: 'm'});
addText('Retron', 903, 161, 27, {cls: 'm'});
addText('Genomic coverage of <i>T. erythraeum</i> IMS101 in Tara Oceans metagenome #184', 800, 264, 31, {cls: 'm'});
addText('DGR activity-associated drop in coverage', 571, 318, 25.3);
addText('in read recruitment results, and an increase in', 571, 350, 25.3);
addText('the density of single-nucleotide variants', 571, 381, 25.3);
addText('Coverage', 22, 430, 28.5, {rot: -90, cls: 'm'});
addText('Coverage', 22, 782, 28.5, {rot: -90, cls: 'm'});
addText('Coverage', 22, 1101, 28.5, {rot: -90, cls: 'm'});
addText('Target gene 1', 218, 595, 28.3, {cls: 'm'});
addText('RT', 544, 595, 28.3, {cls: 'm'});
addText('Target gene 2', 1265, 595, 28.3, {cls: 'm'});
addText('Single-nucleotide variants (SNVs)', 816, 663, 27.8);
addText('Target gene 1', 903, 933, 28.3, {cls: 'm'});
addText('Single-amino acid variants (SAAVs)', 908, 992, 27.6);
addText('Target gene 1', 902, 1256, 28.3, {cls: 'm'});
aminoAcids.forEach((aa, i) => {
  const col = i % 10, row = i < 10 ? 0 : 1;
  const starts = [691, 761, 830, 903, 976, 1045, 1115, 1184, 1251, 1317];
  const y = row ? 1045 : 1013;
  const s = document.createElement('div');
  s.className = 'sw';
  s.style.cssText = 'left:' + starts[col] + 'px;top:' + y + 'px;background:' + aminoColors[i];
  page.appendChild(s);
  addText(aa, starts[col] + 28, y + 13, 19, {left: true});
});
const seq = 'AAGACGAAAACCAANANNGNNGNNGNNGNNCNNCNNGNNCNNGNNANNGNNGNNG';
addText(seq.replace(/N+/g, m => '<b>' + m + '</b>'), 463, 1300, 21, {cls: 'dna'});
addText('Oligotyping analysis of short reads from six marine metagenomes', 85, 1330, 28, {left: true});
addText('that match to the <span style="color:#8b1010;letter-spacing:-0.4px">in silico primer</span> <span style="letter-spacing:0.7px">for the DGR target site:</span>', 85, 1364, 29, {left: true});
addText('Clustering of metagenomes based on', 23, 1686, 28, {rot: -90});
addText('oligotypes from the variable region', 58, 1686, 27.2, {rot: -90});
[[233,0],[233,1],[188,2],[234,3],[234,4],[223,5]].forEach((p, i) => {
  addText(sampleNames[i], p[0], 1438 + p[1] * 87.2, 17.7, {left: true, css: 'font-weight:bold;'});
});
addText('Oligotypes', 619, 1935, 29, {cls: 'm'});
addText('Hawaii', 1099, 1383, 28);
addText('Madagascar', 1634, 1852, 28, {rot: 90});
</script>
</body>
</html>
